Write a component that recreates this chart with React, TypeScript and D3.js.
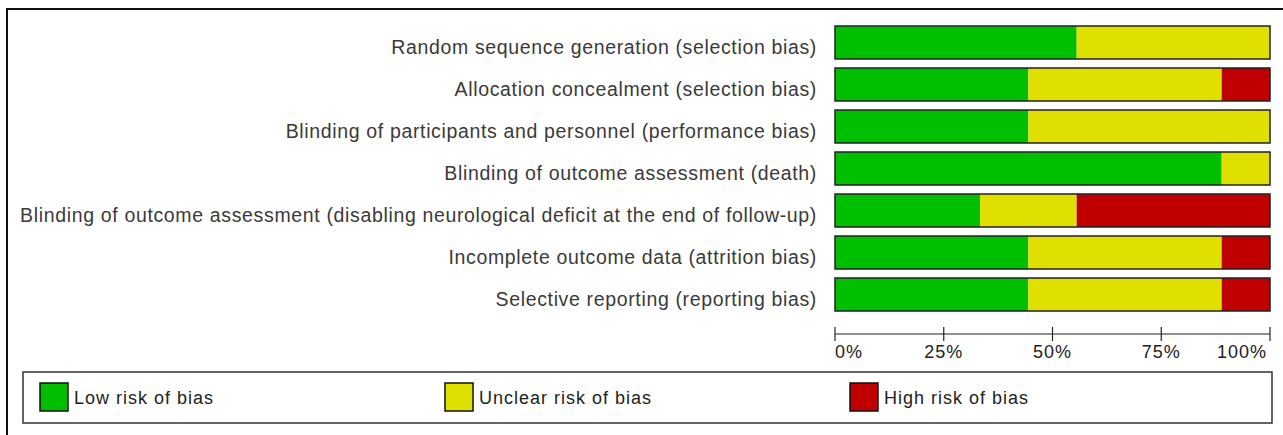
import * as d3 from "d3";

// risk of bias summary, share of studies per domain (9 studies)
const domains = [
  "Random sequence generation (selection bias)",
  "Allocation concealment (selection bias)",
  "Blinding of participants and personnel (performance bias)",
  "Blinding of outcome assessment (death)",
  "Blinding of outcome assessment (disabling neurological deficit at the end of follow-up)",
  "Incomplete outcome data (attrition bias)",
  "Selective reporting (reporting bias)",
];
const lowRisk = [5 / 9, 4 / 9, 4 / 9, 8 / 9, 3 / 9, 4 / 9, 4 / 9];
const unclearRisk = [4 / 9, 4 / 9, 5 / 9, 1 / 9, 2 / 9, 4 / 9, 4 / 9];
const highRisk = [0, 1 / 9, 0, 0, 4 / 9, 1 / 9, 1 / 9];

const tickValues = [0, 0.25, 0.5, 0.75, 1];
const legendLabels = ["Low risk of bias", "Unclear risk of bias", "High risk of bias"];
const colors = ["#00bf00", "#e0e000", "#c00000"];

export default function App() {
  const x = d3.scaleLinear().domain([0, 1]).range([835, 1270]);
  const y = d3
    .scaleBand<string>()
    .domain(domains)
    .range([21.5, 315.5])
    .paddingInner(0.2143)
    .paddingOuter(0.107);

  const stack = d3
    .stack<number>()
    .keys(["low", "unclear", "high"])
    .value((i, key) =>
      key === "low" ? lowRisk[i] : key === "unclear" ? unclearRisk[i] : highRisk[i]
    );
  const series = stack(domains.map((_, i) => i));

  const axisY = 334;
  const legendX = d3.scaleLinear().domain([0, 1]).range([40, 445]);

  return (
    <div style={{ position: "absolute", left: 0, top: 0 }}>
      <svg width={1283} height={435} style={{ display: "block" }}>
        <rect x={0} y={0} width={1283} height={435} fill="#fff" />
        {/* outer frame, cut at the right and bottom */}
        <rect x={7} y={9} width={1300} height={450} fill="none" stroke="#111" strokeWidth={2} />

        {/* labels */}
        {domains.map((d) => (
          <text
            key={d}
            x={817}
            y={(y(d) || 0) + y.bandwidth() / 2 + 4.5}
            textAnchor="end"
            dominantBaseline="central"
            fontFamily="'Liberation Sans', Arial, sans-serif"
            fontSize={19.5}
            letterSpacing={0.65}
            fill="#3a3a3a"
          >
            {d}
          </text>
        ))}

        {/* stacked bars */}
        {series.map((s, k) =>
          s.map((seg, i) => (
            <rect
              key={`${k}-${i}`}
              x={x(seg[0])}
              y={y(domains[i])}
              width={Math.max(0, x(seg[1]) - x(seg[0]))}
              height={y.bandwidth()}
              fill={colors[k]}
            />
          ))
        )}
        {domains.map((d) => (
          <rect
            key={`b-${d}`}
            x={x(0)}
            y={y(d)}
            width={x(1) - x(0)}
            height={y.bandwidth()}
            fill="none"
            stroke="#222"
            strokeWidth={1.5}
          />
        ))}

        {/* axis */}
        <line x1={x(0)} x2={x(1)} y1={axisY} y2={axisY} stroke="#222" strokeWidth={1.2} />
        {tickValues.map((t, i) => (
          <g key={t}>
            <line x1={x(t)} x2={x(t)} y1={axisY - 7} y2={axisY + 7} stroke="#222" strokeWidth={1.2} />
            <text
              x={i === 0 ? x(t) : i === tickValues.length - 1 ? x(t) - 3 : x(t)}
              y={358}
              textAnchor={i === 0 ? "start" : i === tickValues.length - 1 ? "end" : "middle"}
              fontFamily="'Liberation Sans', Arial, sans-serif"
              fontSize={18}
              letterSpacing={1}
              fill="#222"
            >
              {d3.format(".0%")(t)}
            </text>
          </g>
        ))}

        {/* legend */}
        <rect x={23} y={372} width={1249} height={51} fill="none" stroke="#333" strokeWidth={1.5} />
        {legendLabels.map((l, i) => (
          <g key={l}>
            <rect
              x={legendX(i)}
              y={383}
              width={28}
              height={28}
              fill={colors[i]}
              stroke="#111"
              strokeWidth={1.5}
            />
            <text
              x={legendX(i) + 34}
              y={398}
              dominantBaseline="central"
              fontFamily="'Liberation Sans', Arial, sans-serif"
              fontSize={18}
              letterSpacing={1}
              fill="#222"
            >
              {l}
            </text>
          </g>
        ))}
      </svg>
    </div>
  );
}
